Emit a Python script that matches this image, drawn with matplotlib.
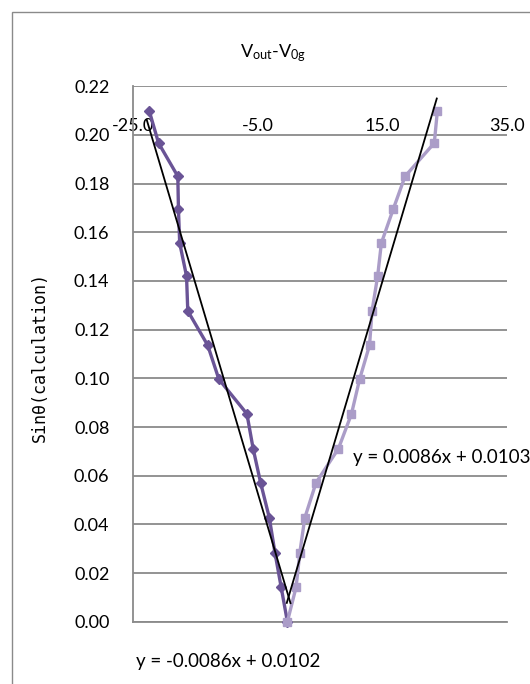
import matplotlib
matplotlib.use('Agg')
import matplotlib.pyplot as plt
from matplotlib.patches import Rectangle
import numpy as np

plt.rcParams['font.family'] = ['Lato', 'DejaVu Sans']
plt.rcParams['mathtext.default'] = 'regular'

# sin(theta) levels shared by both branches
sin_theta = [0.0, 0.0142, 0.0284, 0.0427, 0.0571, 0.0711, 0.0854, 0.0996,
             0.1136, 0.1277, 0.1420, 0.1556, 0.1695, 0.1830, 0.1967, 0.2100]
# V_out - V_0g, negative branch and positive branch
v_neg = [-0.2, -1.2, -2.2, -3.1, -4.5, -5.7, -6.7, -11.2,
         -13.0, -16.2, -16.4, -17.5, -17.7, -17.8, -20.9, -22.4]
v_pos = [-0.2, 1.2, 1.8, 2.6, 4.4, 8.0, 10.1, 11.4,
         13.0, 13.4, 14.3, 14.9, 16.8, 18.7, 23.4, 23.9]

# linear trendlines: slope, intercept, x span
fit_neg = (-0.0086, 0.0102)
fit_pos = (0.0086, 0.0103)
span_neg = [-22.8, 0.3]
span_pos = [-0.3, 23.8]

x_ticks = [-25.0, -5.0, 15.0, 35.0]
y_ticks = [0.00, 0.02, 0.04, 0.06, 0.08, 0.10, 0.12, 0.14, 0.16, 0.18, 0.20, 0.22]

grid_c = '#8a8a8a'
dark = '#6a5496'
light = '#ab9dc8'

fig = plt.figure(figsize=(5.3, 6.84), dpi=100)
fig.add_artist(Rectangle((12 / 530, -0.1), 1.2, (684 - 12) / 684 + 0.1,
                         transform=fig.transFigure, fill=False,
                         edgecolor=grid_c, lw=1.0))

ax = fig.add_axes([133 / 530, 62.3 / 684, 373.5 / 530, 535.4 / 684])
ax.set_xlim(-25, 35)
ax.set_ylim(0, 0.22)

ax.plot(v_neg, sin_theta, color=dark, lw=2.4, marker='D', ms=5.5,
        zorder=3, clip_on=False)
ax.plot(v_pos, sin_theta, color=light, lw=2.4, marker='s', ms=5.5,
        zorder=3, clip_on=False)

for (m, b), span in ((fit_neg, span_neg), (fit_pos, span_pos)):
    xs = np.array(span)
    ax.plot(xs, m * xs + b, color='black', lw=1.3, zorder=4, clip_on=False)

ax.set_yticks(y_ticks)
ax.set_yticklabels([f'{v:.2f}' for v in y_ticks])
ax.yaxis.grid(True, color=grid_c, lw=1.3)
ax.set_axisbelow(True)

# category axis crosses at 0.20, labels sit above it
ax.set_xticks(x_ticks)
ax.set_xticklabels([f'{v:.1f}' for v in x_ticks])
ax.xaxis.set_ticks_position('top')
ax.spines['top'].set_position(('data', 0.20))
ax.spines['top'].set_visible(False)
ax.spines['right'].set_visible(False)
ax.spines['left'].set_color(grid_c)
ax.spines['left'].set_linewidth(1.3)
ax.spines['bottom'].set_color(grid_c)
ax.spines['bottom'].set_linewidth(1.3)
ax.tick_params(axis='x', length=0, pad=1, labelsize=13, colors='black')
ax.tick_params(axis='y', length=0, pad=17, labelsize=13, colors='black')

ax.set_ylabel('Sinθ(calculation)', family=['DejaVu Sans Mono'], fontsize=12,
              va='center')
ax.yaxis.set_label_coords(-0.25, 0.495)

fig.text(273 / 530, 1 - 53 / 684, r'V$_{out}$-V$_{0g}$', ha='center',
         va='center', fontsize=13)

fig.text(353 / 530, 1 - 457 / 684, f'y = {fit_pos[0]:.4f}x + {fit_pos[1]:.4f}',
         ha='left', va='center', fontsize=13.5)
fig.text(136 / 530, 1 - 661 / 684, f'y = {fit_neg[0]:.4f}x + {fit_neg[1]:.4f}',
         ha='left', va='center', fontsize=13.5)

fig.savefig('out.png', dpi=100)
